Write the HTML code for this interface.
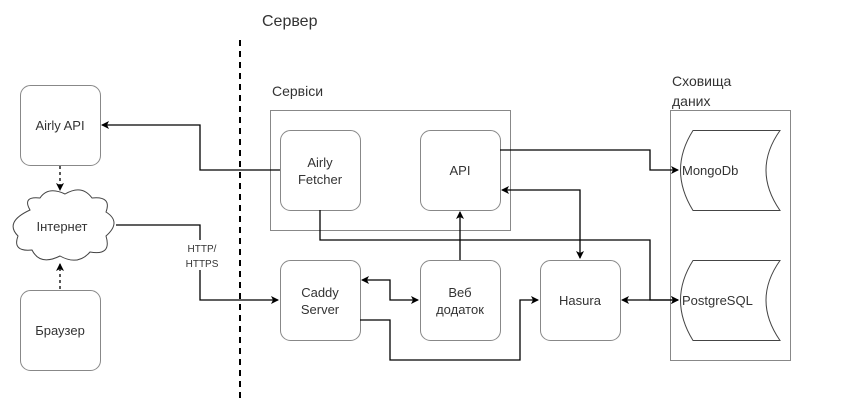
<!DOCTYPE html>
<html><head><meta charset="utf-8"><style>
body{margin:0;background:#fff}
text{font-family:"Liberation Sans",sans-serif;fill:#333}
</style></head><body>
<svg width="842" height="403" xmlns="http://www.w3.org/2000/svg">
<defs>
<marker id="a" markerWidth="8" markerHeight="8" refX="7" refY="4" orient="auto" markerUnits="userSpaceOnUse"><path d="M0,0 L8,4 L0,8 L2,4z" fill="#000"/></marker>
<marker id="s" markerWidth="8" markerHeight="8" refX="1" refY="4" orient="auto" markerUnits="userSpaceOnUse"><path d="M8,0 L0,4 L8,8 L6,4z" fill="#000"/></marker>
</defs>
<line x1="240" y1="40" x2="240" y2="398" stroke="#000" stroke-width="2" stroke-dasharray="6,5"/>
<text x="262" y="26" font-size="16">Сервер</text>
<text x="272" y="96" font-size="14">Сервіси</text>
<text x="672" y="86" font-size="14">Сховища</text>
<text x="672" y="106" font-size="14">даних</text>
<g fill="#fff" stroke="#888" stroke-width="1">
<rect x="270.5" y="110.5" width="240" height="120"/>
<rect x="670.5" y="110.5" width="120" height="250"/>
<rect x="20.5" y="85.5" width="80" height="80" rx="10"/>
<rect x="20.5" y="290.5" width="80" height="80" rx="10"/>
<rect x="280.5" y="130.5" width="80" height="80" rx="10"/>
<rect x="420.5" y="130.5" width="80" height="80" rx="10"/>
<rect x="280.5" y="260.5" width="80" height="80" rx="10"/>
<rect x="420.5" y="260.5" width="80" height="80" rx="10"/>
<rect x="540.5" y="260.5" width="80" height="80" rx="10"/>
</g>
<g fill="#fff" stroke="#444" stroke-width="1">
<path d="M693,130.5 H780 Q752,170 780,210.5 H693 Q668,170 693,130.5Z"/>
<path d="M693,260.5 H780 Q752,300 780,340.5 H693 Q668,300 693,260.5Z"/>
<path d="M30,210 Q22,196 40,198 Q48,186 65,194 Q82,184 92,198 Q112,196 106,212 Q122,222 106,236 Q112,256 90,252 Q78,266 60,256 Q40,266 32,250 Q12,252 18,236 Q4,222 30,210Z"/>
</g>
<g fill="none" stroke="#000" stroke-width="1.3">
<path d="M280,170 H200 V125 H102" marker-end="url(#a)"/>
<path d="M320,210 V240 H650 V300 H678" marker-end="url(#a)"/>
<path d="M500,150 H650 V170 H678" marker-end="url(#a)"/>
<path d="M502,190 H580 V258" marker-start="url(#s)" marker-end="url(#a)"/>
<path d="M460,260 V212" marker-end="url(#a)"/>
<path d="M362,280 H390 V300 H418" marker-start="url(#s)" marker-end="url(#a)"/>
<path d="M360,320 H390 V360 H520 V300 H538" marker-end="url(#a)"/>
<path d="M622,300 H678" marker-start="url(#s)" marker-end="url(#a)"/>
<path d="M116,225 H200 V300 H278" marker-end="url(#a)"/>
<path d="M60,166 V190" stroke-dasharray="3,3" marker-end="url(#a)"/>
<path d="M60,289 V264" stroke-dasharray="3,3" marker-end="url(#a)"/>
</g>
<g font-size="13" text-anchor="middle">
<text x="60" y="130">Airly API</text>
<text x="60" y="335">Браузер</text>
<text x="62" y="231">Інтернет</text>
<text x="320" y="167">Airly</text>
<text x="320" y="184">Fetcher</text>
<text x="460" y="175">API</text>
<text x="320" y="297">Caddy</text>
<text x="320" y="314">Server</text>
<text x="460" y="297">Веб</text>
<text x="460" y="314">додаток</text>
<text x="580" y="305">Hasura</text>
</g>
<g font-size="13">
<text x="682" y="175">MongoDb</text>
<text x="682" y="305">PostgreSQL</text>
</g>
<rect x="180" y="240" width="44" height="30" fill="#fff"/>
<g font-size="10" text-anchor="middle">
<text x="202" y="252">HTTP/</text>
<text x="202" y="267">HTTPS</text>
</g>
</svg>
</body></html>
